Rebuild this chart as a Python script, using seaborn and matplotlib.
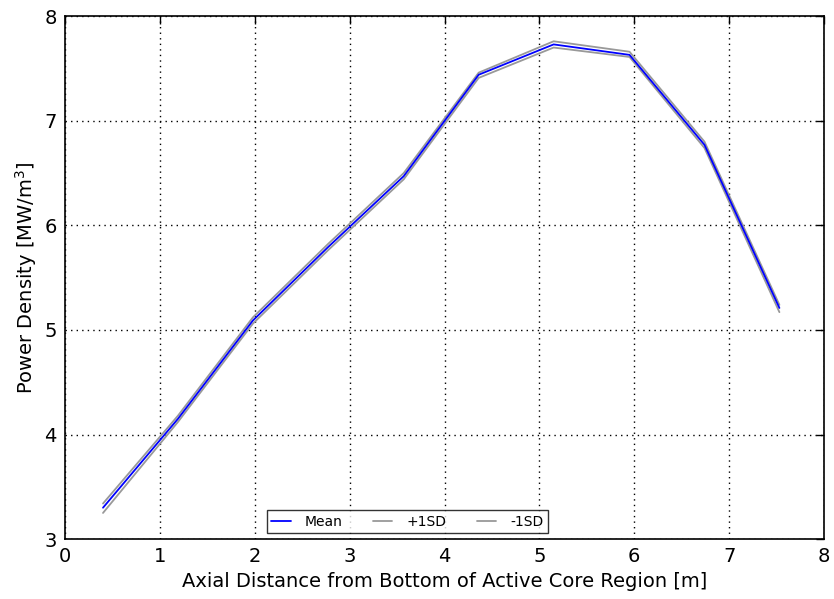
import matplotlib
matplotlib.use("Agg")
import matplotlib.pyplot as plt
import seaborn as sns
import pandas as pd

# Data
axial_m = [0.40, 1.19, 1.98, 2.77, 3.57, 4.36, 5.15, 5.95, 6.74, 7.53]
mean_pd = [3.30, 4.15, 5.09, 5.79, 6.47, 7.44, 7.73, 7.63, 6.77, 5.21]
plus_sd = [3.34, 4.18, 5.12, 5.82, 6.50, 7.46, 7.76, 7.66, 6.80, 5.24]
minus_sd = [3.25, 4.12, 5.06, 5.76, 6.44, 7.41, 7.70, 7.61, 6.74, 5.17]

series_names = ["Mean", "+1SD", "-1SD"]

df = pd.DataFrame({
    "x": axial_m * 3,
    "y": mean_pd + plus_sd + minus_sd,
    "series": [series_names[0]] * len(axial_m) + [series_names[1]] * len(axial_m) + [series_names[2]] * len(axial_m),
})

sns.set_style("white")
plt.rcParams["font.family"] = ["DejaVu Sans"]
plt.rcParams["text.color"] = "black"
plt.rcParams["axes.labelcolor"] = "black"
plt.rcParams["xtick.color"] = "black"
plt.rcParams["ytick.color"] = "black"

fig = plt.figure(figsize=(8.34, 5.99), dpi=100)
ax = fig.add_axes([0.078, 0.100, 0.910, 0.873])

for name, col, z in [("+1SD", "0.6", 2), ("-1SD", "0.6", 2), ("Mean", "blue", 3)]:
    sub = df[df["series"] == name]
    sns.lineplot(data=sub, x="x", y="y", ax=ax, color=col, linewidth=1.3,
                 label=name, zorder=z, sort=False)

ax.set_xlim(0, 8)
ax.set_ylim(3, 8)
ax.set_xticks(range(0, 9))
ax.set_yticks(range(3, 9))
ax.grid(True, linestyle=(0, (1, 3)), color="black", linewidth=1.0)
ax.tick_params(direction="in", length=6, width=1, labelsize=14, top=True, right=True, pad=6,
               colors="black")
for s in ax.spines.values():
    s.set_linewidth(1.2)
    s.set_color("black")
ax.set_xlabel("Axial Distance from Bottom of Active Core Region [m]", fontsize=14, color="black")
ax.set_ylabel(r"Power Density [MW/m$^3$]", fontsize=14, color="black")

handles, labels = ax.get_legend_handles_labels()
order = [labels.index(n) for n in series_names]
leg = ax.legend([handles[i] for i in order], [labels[i] for i in order],
                loc="lower center", bbox_to_anchor=(0.451, 0.012), ncol=3,
                fontsize=10, frameon=True, fancybox=False, edgecolor="black",
                borderaxespad=0, handlelength=1.4, columnspacing=2.2,
                handletextpad=1.0, borderpad=0.3)
leg.get_frame().set_linewidth(1.0)
for t in leg.get_texts():
    t.set_color("black")

fig.savefig("out.png", dpi=100)
